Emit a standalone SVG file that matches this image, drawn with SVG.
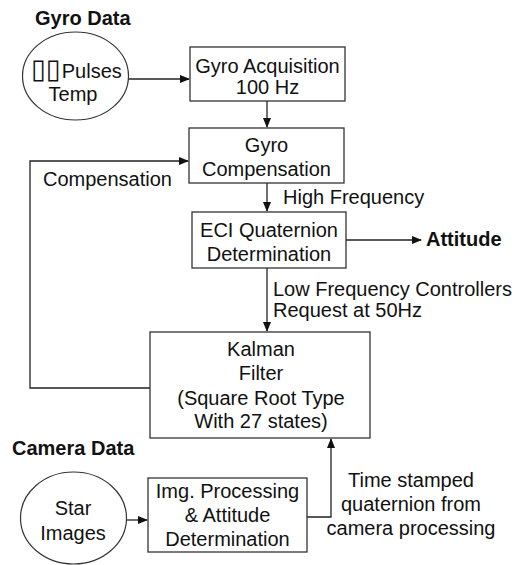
<svg xmlns="http://www.w3.org/2000/svg" width="518" height="565" viewBox="0 0 518 565">
<defs>
<marker id="ah" markerWidth="10" markerHeight="8" refX="9" refY="4" orient="auto" markerUnits="userSpaceOnUse">
<path d="M0,0 L10,4 L0,8 Z" fill="#111"/>
</marker>
<style>
text{font-family:"Liberation Sans",Arial,"DejaVu Sans",sans-serif;font-size:20px;fill:#111;}
.b{font-weight:bold;}
.m{text-anchor:middle;}
.box{fill:#fff;stroke:#333;stroke-width:1.3;}
.ell{fill:#fff;stroke:#333;stroke-width:1.2;}
.c{fill:none;stroke:#222;stroke-width:1.3;}
.tofu{font-family:"DejaVu Sans",sans-serif;font-size:27px;}
</style>
</defs>
<rect width="518" height="565" fill="#fff"/>

<g id="connectors">
<path class="c" d="M128,79 L189,79" marker-end="url(#ah)"/>
<path class="c" d="M267,101 L267,127" marker-end="url(#ah)"/>
<path class="c" d="M267,183 L267,211" marker-end="url(#ah)"/>
<path class="c" d="M346,240 L421,240" marker-end="url(#ah)"/>
<path class="c" d="M267,268 L267,331" marker-end="url(#ah)"/>
<path class="c" d="M150,388 L30,388 L30,161 L188,161" marker-end="url(#ah)"/>
<path class="c" d="M126,520 L147,520" marker-end="url(#ah)"/>
<path class="c" d="M307,517 L331,517 L331,439" marker-end="url(#ah)"/>
</g>

<g id="labels">
<text x="283" y="204">High Frequency</text>
<text x="43" y="186">Compensation</text>
<text x="273" y="296">Low Frequency Controllers</text>
<text x="273" y="317">Request at 50Hz</text>
<text class="m" x="411" y="487">Time stamped</text>
<text class="m" x="411" y="511">quaternion from</text>
<text class="m" x="411" y="535">camera processing</text>
<text class="b" x="426" y="246">Attitude</text>
</g>

<g id="gyro-data">
<text class="b" x="35" y="25">Gyro Data</text>
<ellipse class="ell" cx="75.5" cy="76" rx="53" ry="44"/>
<text x="31" y="78"><tspan class="tofu">▯▯</tspan><tspan dx="1">Pulses</tspan></text>
<text class="m" x="73" y="101">Temp</text>
</g>

<g id="gyro-acquisition">
<rect class="box" x="190" y="47" width="155" height="54"/>
<text class="m" x="267.5" y="73">Gyro Acquisition</text>
<text class="m" x="267.5" y="94">100 Hz</text>
</g>

<g id="gyro-compensation">
<rect class="box" x="189" y="128" width="155" height="55"/>
<text class="m" x="266.5" y="152">Gyro</text>
<text class="m" x="266.5" y="176">Compensation</text>
</g>

<g id="eci-quaternion">
<rect class="box" x="192" y="212" width="154" height="56"/>
<text class="m" x="269" y="237">ECI Quaternion</text>
<text class="m" x="269" y="261">Determination</text>
</g>

<g id="kalman-filter">
<rect class="box" x="150" y="332" width="220" height="106"/>
<text class="m" x="261" y="356">Kalman</text>
<text class="m" x="261" y="380">Filter</text>
<text class="m" x="261" y="405">(Square Root Type</text>
<text class="m" x="261" y="428">With 27 states)</text>
</g>

<g id="camera-data">
<text class="b" x="12" y="455">Camera Data</text>
<ellipse class="ell" cx="73.5" cy="518" rx="53" ry="46"/>
<text class="m" x="73" y="515">Star</text>
<text class="m" x="73" y="540">Images</text>
</g>

<g id="img-processing">
<rect class="box" x="148" y="478" width="159" height="74"/>
<text class="m" x="227.5" y="498">Img. Processing</text>
<text class="m" x="227.5" y="522">&amp; Attitude</text>
<text class="m" x="227.5" y="546">Determination</text>
</g>
</svg>
